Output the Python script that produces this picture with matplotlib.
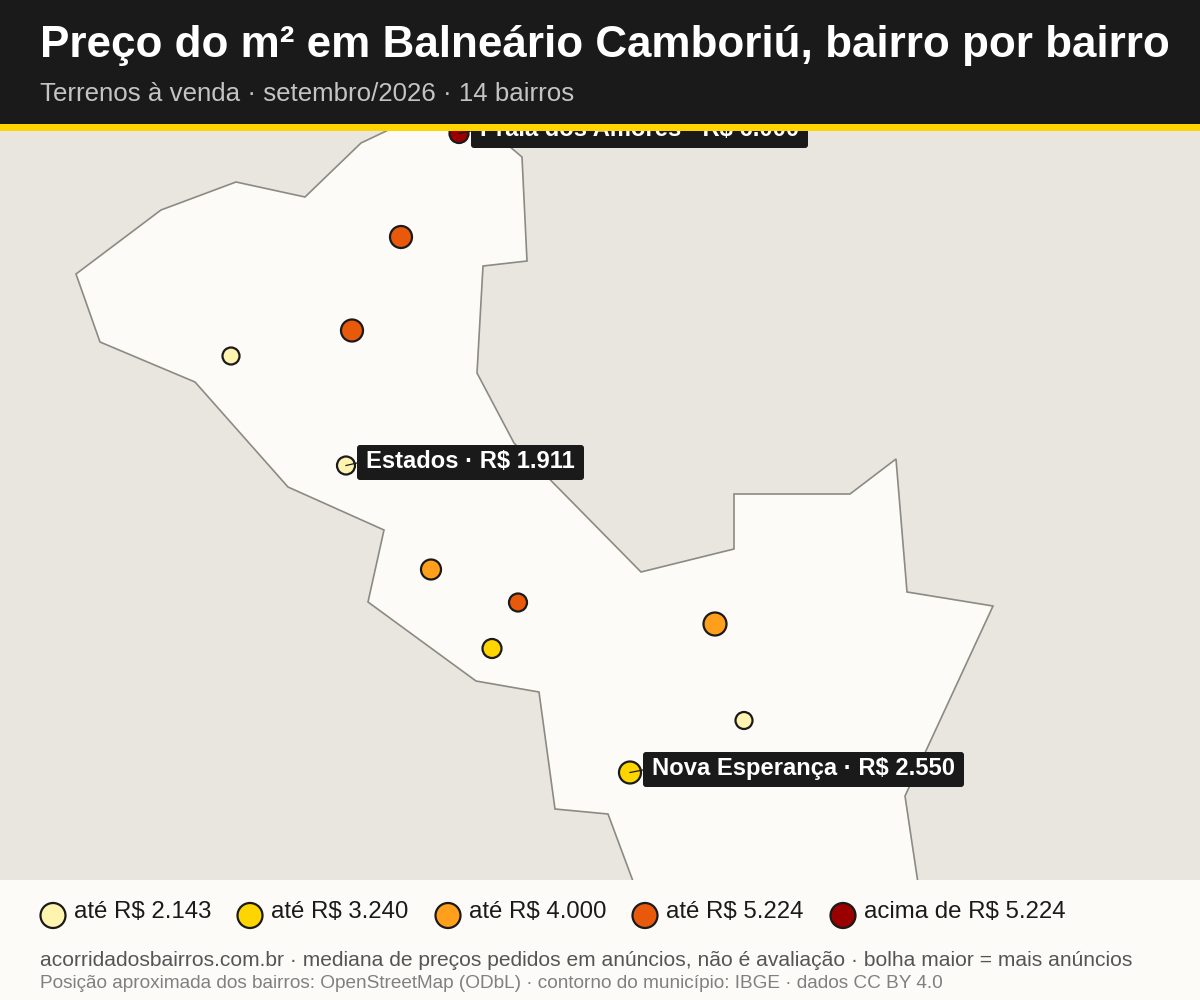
import matplotlib
matplotlib.use("Agg")
import matplotlib.pyplot as plt
from matplotlib.patches import Polygon, Rectangle, Ellipse, FancyBboxPatch

plt.rcParams['font.family'] = ['Liberation Sans', 'DejaVu Sans']

BG_LAND = '#e9e6df'
BG_MUNI = '#fcfbf7'
DARK = '#1a1a1a'
YELLOW = '#ffd500'
COLORS = ['#fff3b0', '#ffd500', '#ff9f1c', '#e8590c', '#9b0000']

TITLE = 'Preço do m² em Balneário Camboriú, bairro por bairro'
SUBTITLE = 'Terrenos à venda · setembro/2026 · 14 bairros'
LEGEND_LABELS = ['até R$ 2.143', 'até R$ 3.240', 'até R$ 4.000', 'até R$ 5.224', 'acima de R$ 5.224']
NOTE1 = 'acorridadosbairros.com.br · mediana de preços pedidos em anúncios, não é avaliação · bolha maior = mais anúncios'
NOTE2 = 'Posição aproximada dos bairros: OpenStreetMap (ODbL) · contorno do município: IBGE · dados CC BY 4.0'

outline_x = [76, 161, 236, 305, 361, 420, 490, 522, 527, 483, 477, 514, 641, 734, 734, 850, 896, 907, 993, 905, 922, 640, 608, 555, 539, 476, 368, 384, 288, 195, 100]
outline_y = [274, 210, 182, 197, 143, 115, 130, 157, 261, 266, 373, 443, 572, 549, 494, 494, 459, 592, 606, 796, 910, 900, 814, 809, 692, 681, 602, 530, 487, 382, 342]

point_x = [459, 401, 352, 231, 346, 431, 518, 492, 715, 744, 630]
point_y = [133.5, 237, 330.5, 356, 465.5, 569.5, 602.5, 648.5, 624, 720.5, 772.5]
point_class = [4, 3, 3, 0, 0, 2, 3, 1, 2, 0, 1]
point_diam = [19, 22, 22, 17, 18, 20, 18, 19, 23, 17, 22]

label_names = ['Praia dos Amores', 'Estados', 'Nova Esperança']
label_values = ['R$ 6.000', 'R$ 1.911', 'R$ 2.550']
label_point = [0, 4, 10]
label_text_x = [480, 366, 652]
label_box_y0 = [113, 445, 752]
label_box_x0 = [471, 357, 643]
label_box_x1 = [808, 584, 964]

fig = plt.figure(figsize=(12, 10), dpi=100, facecolor=BG_LAND)
ax = fig.add_axes([0, 0, 1, 1])
ax.set_xlim(0, 1200)
ax.set_ylim(1000, 0)
ax.axis('off')

ax.add_patch(Polygon(list(zip(outline_x, outline_y)), closed=True, fc=BG_MUNI, ec='#8b8b82', lw=1.2, zorder=1))

for x, y, c, d in zip(point_x, point_y, point_class, point_diam):
    ax.add_patch(Ellipse((x, y), d, d, fc=COLORS[c], ec=DARK, lw=1.6, zorder=3))
for i, k in enumerate(label_point):
    ax.plot([point_x[k], label_box_x0[i]], [point_y[k], label_box_y0[i] + 18], color=DARK, lw=0.9, zorder=4)

for n, v, tx, y0, x0, x1 in zip(label_names, label_values, label_text_x, label_box_y0, label_box_x0, label_box_x1):
    y1 = y0 + 35
    ax.add_patch(FancyBboxPatch((x0 + 3, y0 + 3), x1 - x0 - 6, y1 - y0 - 6,
                                boxstyle='round,pad=3,rounding_size=3', fc=DARK, ec='none', zorder=5))
    ax.text(tx, y0 + 17, f'{n} · {v}', color='white', fontsize=17.1, fontweight='bold', va='center', ha='left', zorder=6)

# header
ax.add_patch(Rectangle((0, 0), 1200, 124, fc=DARK, ec='none', zorder=10))
ax.add_patch(Rectangle((0, 124), 1200, 7, fc=YELLOW, ec='none', zorder=11))
ax.text(40, 46, TITLE, color='white', fontsize=31.66, fontweight='bold', va='center', ha='left', zorder=12)
ax.text(40, 94, SUBTITLE, color='#c4c4c4', fontsize=18.64, va='center', ha='left', zorder=12)

# footer
ax.add_patch(Rectangle((0, 880), 1200, 120, fc=BG_MUNI, ec='none', zorder=10))
legend_x = [53, 250, 448, 645, 843]
for x, c, lab in zip(legend_x, COLORS, LEGEND_LABELS):
    ax.add_patch(Ellipse((x, 915.5), 25, 25, fc=c, ec=DARK, lw=1.6, zorder=12))
    ax.text(x + 21, 912, lab, color=DARK, fontsize=17.3, va='center', ha='left', zorder=12)
ax.text(40, 960, NOTE1, color='#555555', fontsize=15.1, va='center', ha='left', zorder=12)
ax.text(40, 984, NOTE2, color='#808080', fontsize=13.72, va='center', ha='left', zorder=12)

fig.savefig('out.png', dpi=100, facecolor=fig.get_facecolor())
